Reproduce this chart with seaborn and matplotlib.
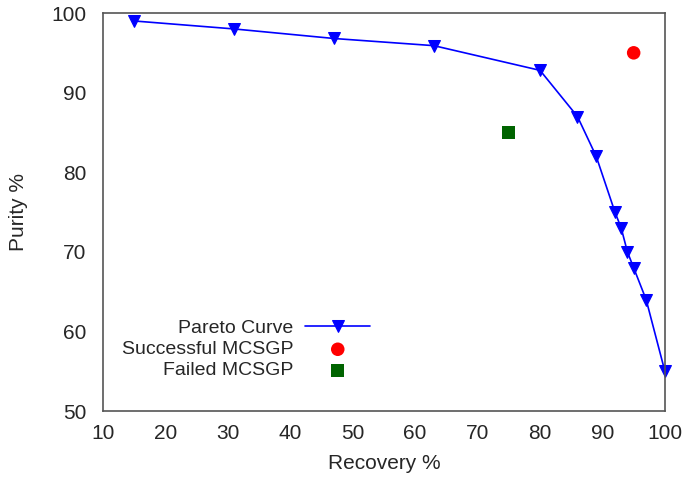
import numpy as np
import pandas as pd
import seaborn as sns
import matplotlib.pyplot as plt

# data
recovery = [15, 31, 47, 63, 80, 86, 89, 92, 93, 94, 95, 97, 100]
purity = [99, 98, 96.8, 95.9, 92.8, 87, 82, 75, 73, 70, 68, 64, 55]
success_x, success_y = [95], [95]
failed_x, failed_y = [75], [85]

pareto = pd.DataFrame({"Recovery": recovery, "Purity": purity})

sns.set_style("white")
plt.rcParams["font.family"] = ["Liberation Sans", "DejaVu Sans"]

fig = plt.figure(figsize=(6.89, 4.82), dpi=100)
ax = fig.add_axes([0.1495, 0.147, 0.8155, 0.826])

sns.lineplot(data=pareto, x="Recovery", y="Purity", color="#0000ff", lw=1.2,
             marker="v", markersize=8, markeredgecolor="#0000ff",
             label="Pareto Curve", ax=ax, clip_on=False)
sns.scatterplot(x=success_x, y=success_y, color="#ff0000", marker="o", s=95,
                edgecolor="none", label="Successful MCSGP", ax=ax)
sns.scatterplot(x=failed_x, y=failed_y, color="#006400", marker="s", s=85,
                edgecolor="none", label="Failed MCSGP", ax=ax)

ax.set_xlim(10, 100)
ax.set_ylim(50, 100)
ax.set_xticks(range(10, 101, 10))
ax.set_yticks(range(50, 101, 10))
ax.set_xlabel("Recovery %", fontsize=15, labelpad=8)
ax.set_ylabel("Purity %", fontsize=15, labelpad=17)
ax.tick_params(direction="in", length=5, labelsize=15, color="#555555", pad=9)
ax.tick_params(axis="y", pad=12)
for s in ax.spines.values():
    s.set_color("#555555")
    s.set_linewidth(1.2)

ax.legend(loc="lower left", bbox_to_anchor=(0.02, 0.06), markerfirst=False,
          frameon=False, fontsize=14, handlelength=3.35, labelspacing=0.18,
          borderaxespad=0, handletextpad=0.6)
for t in ax.get_legend().get_texts():
    t.set_ha("right")

fig.savefig("out.png", dpi=100)
